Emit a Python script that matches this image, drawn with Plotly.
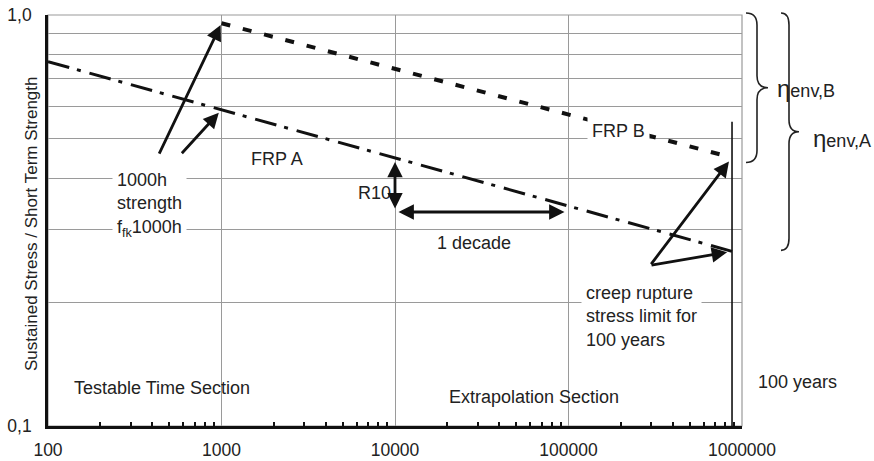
import math
import plotly.graph_objects as go

# ---------------- data ----------------
x_tick_vals = [100, 1000, 10000, 100000, 1000000]
x_tick_text = ["100", "1000", "10000", "100000", "1000000"]
y_tick_vals = [0.1, 0.2, 0.3, 0.4, 0.5, 0.6, 0.7, 0.8, 0.9, 1.0]
y_tick_text = ["0,1", "", "", "", "", "", "", "", "", "1,0"]

hours_100_years = 876000
frp_a_time = [100, hours_100_years]
frp_a_stress = [0.77, 0.266]
frp_b_time = [1000, hours_100_years]
frp_b_stress = [0.955, 0.45]
line_100y_stress = [0.55, 0.1]

minor_x = [k * 10 ** d for d in range(2, 6) for k in range(2, 10)]

# ---------------- layout helpers ----------------
W, H = 874, 461
L, R, T, B = 48, 132, 15, 35
PW, PH = W - L - R, H - T - B
FONT = "Liberation Sans, Arial, sans-serif"
TXT = 18


def pxp(x):  # pixel x -> paper
    return (x - L) / PW


def pyp(y):  # pixel y -> paper
    return (H - B - y) / PH


def lg(v):
    return math.log10(v)


def frp_a(t):
    s = (lg(frp_a_stress[1]) - lg(frp_a_stress[0])) / (lg(frp_a_time[1]) - lg(frp_a_time[0]))
    return 10 ** (lg(frp_a_stress[0]) + s * (lg(t) - lg(frp_a_time[0])))


fig = go.Figure()

fig.add_trace(go.Scatter(x=frp_a_time, y=frp_a_stress, mode="lines",
                         line=dict(color="#111", width=3, dash="22px,8px,4px,9px"),
                         showlegend=False, hoverinfo="skip"))
fig.add_trace(go.Scatter(x=frp_b_time, y=frp_b_stress, mode="lines",
                         line=dict(color="#111", width=4, dash="9px,13px"),
                         showlegend=False, hoverinfo="skip"))
fig.add_trace(go.Scatter(x=[hours_100_years, hours_100_years], y=line_100y_stress, mode="lines",
                         line=dict(color="#111", width=1.6),
                         showlegend=False, hoverinfo="skip"))

ann = []


def text(t, x, y, anchor="left", bg=None, size=TXT, align="left"):
    d = dict(text=t, x=pxp(x), y=pyp(y), xref="paper", yref="paper",
             xanchor=anchor, yanchor="middle", showarrow=False, align=align,
             font=dict(family=FONT, size=size, color="#222"))
    if bg:
        d.update(bgcolor=bg, borderpad=4)
    ann.append(d)


text("Testable Time Section", 72, 388)
text("Extrapolation Section", 447, 397)
text("100 years", 756, 382)
text("FRP A", 249, 159)
text("FRP B", 587, 131, bg="white")
text("R10", 393, 193, anchor="right")
text("1 decade", 435, 243)
text("1000h<br>strength<br>f<sub>fk</sub>1000h", 112, 205, bg="white")
text("creep rupture<br>stress limit for<br>100 years", 581, 316, bg="white")
text("<span style='font-size:24px'>η</span>env,B", 775, 88)
text("<span style='font-size:24px'>η</span>env,A", 811, 138)

# y-axis title
ann.append(dict(text="Sustained Stress / Short Term Strength", x=pxp(32), y=pyp(224),
                xref="paper", yref="paper", xanchor="center", yanchor="middle",
                textangle=-90, showarrow=False,
                font=dict(family=FONT, size=17, color="#222")))


def arrow(tx, ty, ax, ay, standoff=2):
    ann.append(dict(text="", x=lg(tx), y=lg(ty), xref="x", yref="y",
                    ax=ax, ay=ay, showarrow=True, arrowhead=2, arrowsize=1.1,
                    arrowwidth=2.8, arrowcolor="#111", standoff=standoff))


arrow(frp_b_time[0], frp_b_stress[0], -63, 132, 2)
arrow(frp_a_time[0] * 10, frp_a(1000), -41, 45, 4)
arrow(frp_b_time[1], frp_b_stress[1], -82, 108, 5)
arrow(frp_a_time[1], frp_a_stress[1], -82, 14, 5)

# R10 double arrow
ann.append(dict(text="", x=lg(1e4), y=lg(frp_a(1e4)), xref="x", yref="y",
                ax=lg(1e4), ay=lg(frp_a(1e5)), axref="x", ayref="y",
                showarrow=True, arrowhead=2, startarrowhead=2, arrowside="end+start",
                arrowsize=1.1, startarrowsize=1.1, arrowwidth=2.8, arrowcolor="#111",
                standoff=0, startstandoff=0, yshift=-4))
# 1 decade double arrow
ann.append(dict(text="", x=lg(1e5), y=lg(frp_a(1e5)), xref="x", yref="y",
                ax=lg(1e4), ay=lg(frp_a(1e5)), axref="x", ayref="y",
                showarrow=True, arrowhead=2, startarrowhead=2, arrowside="end+start",
                arrowsize=1.1, startarrowsize=1.1, arrowwidth=2.8, arrowcolor="#111",
                standoff=4, startstandoff=2, yshift=-6))


def brace(x0, xs, xp, top, bot, r=12):
    mid = (top + bot) / 2
    pts = [("M", [(x0, top)]), ("Q", [(xs, top), (xs, top + r)]), ("L", [(xs, mid - r)]),
           ("Q", [(xs, mid), (xp, mid)]), ("Q", [(xs, mid), (xs, mid + r)]),
           ("L", [(xs, bot - r)]), ("Q", [(xs, bot), (x0, bot)])]
    s = ""
    for cmd, ps in pts:
        s += cmd + " " + " ".join(f"{pxp(a):.5f},{pyp(b):.5f}" for a, b in ps) + " "
    return s.strip()


def ypix(v):
    return H - B - (lg(v) + 1) * PH


shapes = [
    dict(type="rect", xref="paper", yref="paper", x0=0, x1=1, y0=0, y1=1,
         line=dict(color="#9a9a9a", width=1.2), layer="below"),
    dict(type="path", xref="paper", yref="paper",
         path=brace(746, 757, 768, ypix(1.0) - 2, ypix(frp_b_stress[1]) + 5),
         line=dict(color="#222", width=1.6)),
    dict(type="path", xref="paper", yref="paper",
         path=brace(781, 789, 799, ypix(1.0) - 2, ypix(frp_a_stress[1]) - 1),
         line=dict(color="#222", width=1.6)),
]

fig.update_layout(
    width=W, height=H, margin=dict(l=L, r=R, t=T, b=B, autoexpand=False),
    paper_bgcolor="white", plot_bgcolor="white",
    font=dict(family=FONT, size=TXT, color="#222"),
    annotations=ann, shapes=shapes, showlegend=False,
    xaxis=dict(type="log", range=[2, 6], tickvals=x_tick_vals, ticktext=x_tick_text,
               showgrid=True, gridcolor="#9a9a9a", gridwidth=1.2, automargin=False,
               showline=True, linecolor="#111", linewidth=2.6, zeroline=False,
               ticks="", ticklabelstandoff=6, tickfont=dict(size=17.5, color="#222"),
               minor=dict(tickvals=minor_x, ticks="inside", ticklen=4, tickwidth=1.5,
                          tickcolor="#111", showgrid=False)),
    yaxis=dict(type="log", range=[-1, 0], tickvals=y_tick_vals, ticktext=y_tick_text,
               showgrid=True, gridcolor="#9a9a9a", gridwidth=1.2, automargin=False,
               showline=True, linecolor="#111", linewidth=2.6, zeroline=False,
               ticks="", ticklabelstandoff=10, tickfont=dict(size=17.5, color="#222")),
)

fig.write_html("out.html")
